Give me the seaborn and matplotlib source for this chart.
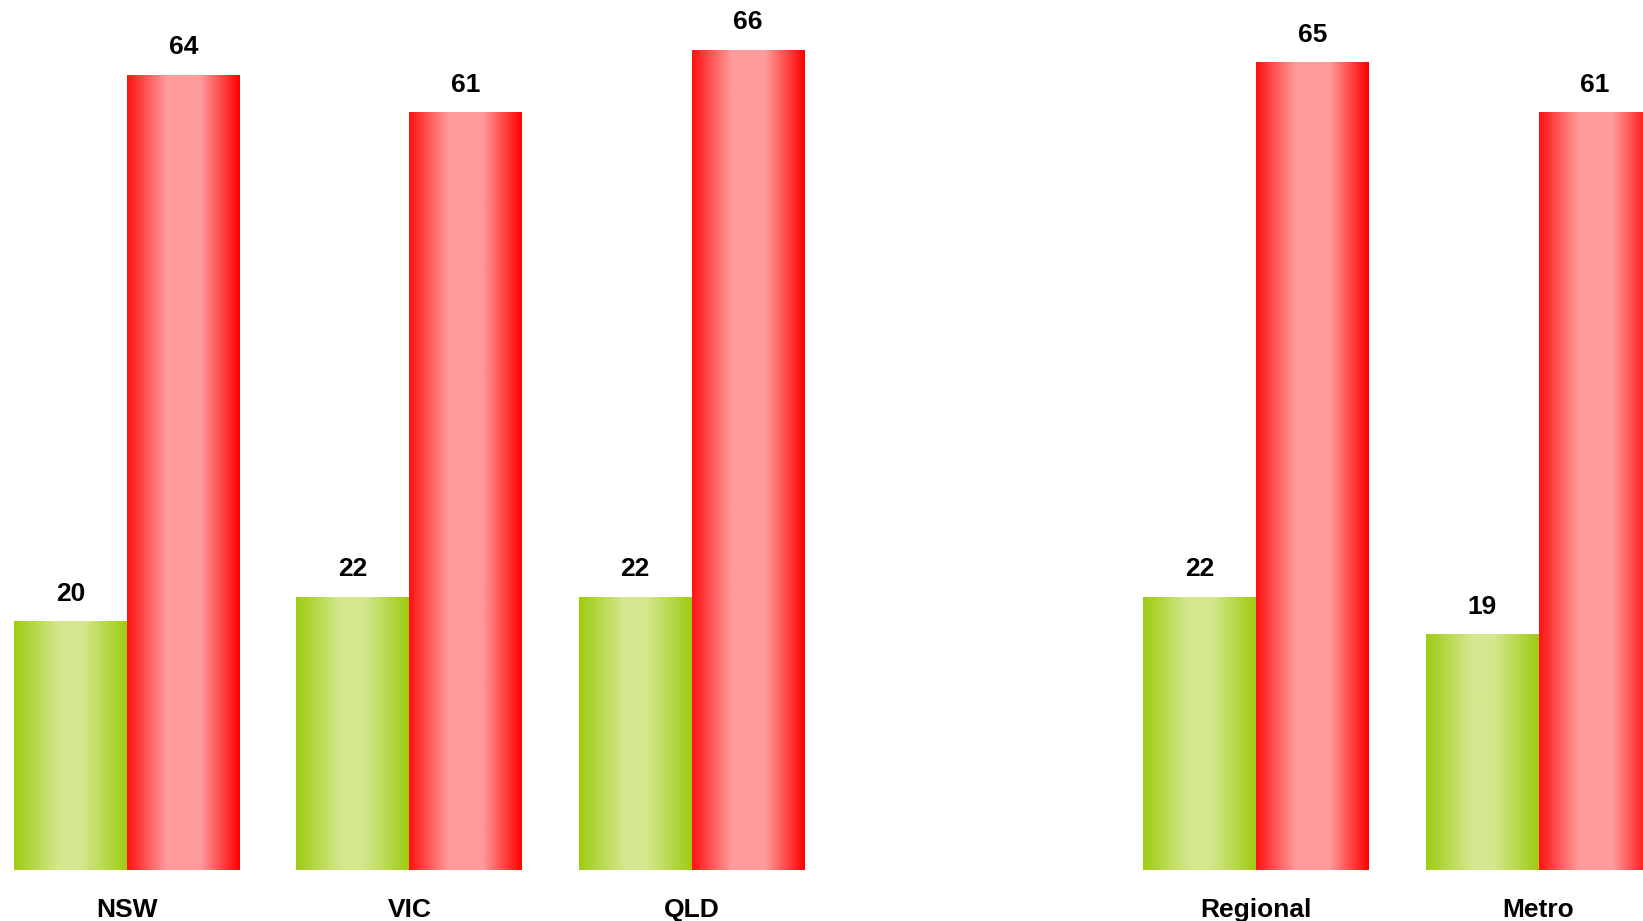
import numpy as np
import pandas as pd
import seaborn as sns
import matplotlib
matplotlib.use('Agg')
import matplotlib.pyplot as plt

# data
categories = ['NSW', 'VIC', 'QLD', 'Regional', 'Metro']
green_vals = [20, 22, 22, 22, 19]
red_vals = [64, 61, 66, 65, 61]
order = ['NSW', 'VIC', 'QLD', ' ', 'Regional', 'Metro']

df = pd.DataFrame({
    'cat': categories * 2,
    'series': ['green'] * len(categories) + ['red'] * len(categories),
    'value': green_vals + red_vals,
})

sns.set_style('white')
plt.rcParams['font.family'] = ['Liberation Sans', 'DejaVu Sans']

fig = plt.figure(figsize=(16.43, 9.21), dpi=100)
ax = fig.add_axes([0, 51 / 921, 1, 1 - 51 / 921])

palette = {'green': '#9ecc12', 'red': '#ff1010'}
sns.barplot(data=df, x='cat', y='value', hue='series', order=order,
            hue_order=['green', 'red'], palette=palette, width=0.8,
            saturation=1, legend=False, ax=ax)


def gradient(edge_l, center, edge_r, flat, power, n=256):
    # dark at both edges, light band in the middle
    x = np.linspace(0, 1, n)
    t = np.abs(x - 0.5) * 2
    m = np.clip((t - flat) / (1 - flat), 0, 1) ** power
    left = x < 0.5
    img = np.zeros((1, n, 3))
    for i in range(3):
        e = np.where(left, edge_l[i], edge_r[i])
        img[0, :, i] = (center[i] + (e - center[i]) * m) / 255
    return img


grad_green = gradient((158, 204, 18), (212, 231, 142), (158, 204, 18), 0.2, 1.0)
grad_red = gradient((255, 18, 18), (255, 155, 155), (255, 0, 0), 0.3, 1.0)

for p in list(ax.patches):
    x0, y0 = p.get_x(), p.get_y()
    w, h = p.get_width(), p.get_height()
    if h == 0 or np.isnan(h):
        continue
    fc = p.get_facecolor()
    img = grad_green if fc[1] > 0.5 else grad_red
    im = ax.imshow(img, extent=[x0, x0 + w, y0, y0 + h], aspect='auto',
                   interpolation='bilinear', zorder=p.get_zorder() + 0.1)
    im.set_clip_path(p)

for cont in ax.containers:
    ax.bar_label(cont, fmt='%d', padding=11, fontsize=19, fontweight='bold',
                 color='black')

ax.set_xlim(-0.45, 5.37)
ax.set_ylim(0, 70)
ax.set_xlabel('')
ax.set_ylabel('')
ax.set_yticks([])
ax.tick_params(axis='x', length=0, pad=20, labelsize=19, labelcolor='black')
for lab in ax.get_xticklabels():
    lab.set_fontweight('bold')
sns.despine(ax=ax, left=True, bottom=True)

fig.savefig('out.png', dpi=100)
